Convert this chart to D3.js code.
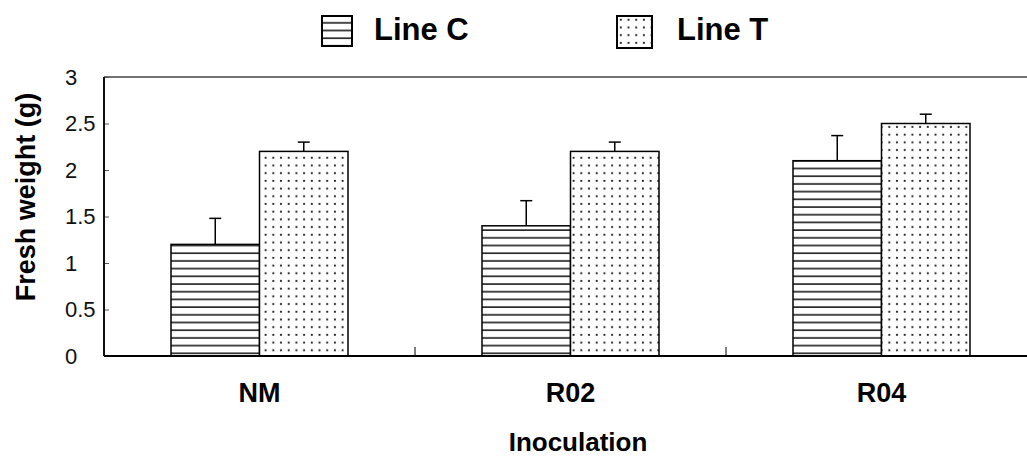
<!DOCTYPE html>
<html>
<head>
<meta charset="utf-8">
<script src="https://cdn.jsdelivr.net/npm/d3@7"></script>
<style>
  body { margin: 0; background: #fff; }
  svg { display: block; font-family: Arial, "Liberation Sans", sans-serif; }
</style>
</head>
<body>
<svg width="1027" height="459"></svg>
<script>
// data
const categories = ["NM", "R02", "R04"];
const series = ["Line C", "Line T"];
const lineC = [1.2, 1.4, 2.1];
const lineT = [2.2, 2.2, 2.5];
const errC = [0.28, 0.27, 0.27];
const errT = [0.1, 0.1, 0.1];
const yTicks = [0, 0.5, 1, 1.5, 2, 2.5, 3];

const width = 1027, height = 459;
const mLeft = 104, mRight = 1037, mTop = 77, mBottom = 356;

const svg = d3.select("svg");

// fill patterns: horizontal stripes and dots
const defs = svg.append("defs");
const stripes = defs.append("pattern")
    .attr("id", "stripes")
    .attr("patternUnits", "userSpaceOnUse")
    .attr("width", 8).attr("height", 7.7);
stripes.append("rect").attr("width", 8).attr("height", 7.7).attr("fill", "#fff");
stripes.append("rect").attr("y", 6.0).attr("width", 8).attr("height", 2).attr("fill", "#2a2a2a");

const dots = defs.append("pattern")
    .attr("id", "dots")
    .attr("patternUnits", "userSpaceOnUse")
    .attr("width", 7.7).attr("height", 7.7);
dots.append("rect").attr("width", 7.7).attr("height", 7.7).attr("fill", "#fff");
dots.append("circle").attr("cx", 3.8).attr("cy", 3.8).attr("r", 1.1).attr("fill", "#222");

const fills = { "Line C": "url(#stripes)", "Line T": "url(#dots)" };

// scales
const x = d3.scaleBand().domain(categories).range([mLeft, mRight]);
const xs = d3.scaleBand().domain(series).range([0, x.bandwidth()]).paddingOuter(0.757);
const y = d3.scaleLinear().domain([0, 3]).range([mBottom, mTop]);

// frame: top line and left/bottom axes
svg.append("line")
    .attr("x1", mLeft).attr("x2", width).attr("y1", mTop).attr("y2", mTop)
    .attr("stroke", "#444").attr("stroke-width", 1.5);

// y axis
const yAxis = svg.append("g").attr("transform", `translate(${mLeft},0)`)
    .call(d3.axisRight(y).tickValues(yTicks).tickSize(5).tickFormat(""));
yAxis.select(".domain").remove();
yAxis.selectAll(".tick line").attr("stroke", "#555").attr("stroke-width", 1);
svg.append("line")
    .attr("x1", mLeft).attr("x2", mLeft).attr("y1", mTop).attr("y2", mBottom)
    .attr("stroke", "#111").attr("stroke-width", 2);

svg.append("g").selectAll("text")
    .data(yTicks)
    .enter().append("text")
    .attr("x", 65)
    .attr("y", d => y(d))
    .attr("dy", "0.36em")
    .attr("font-size", 22)
    .attr("fill", "#111")
    .text(d => d);

// x axis dividers between groups
svg.append("g").selectAll("line")
    .data(categories.slice(1))
    .enter().append("line")
    .attr("x1", d => x(d)).attr("x2", d => x(d))
    .attr("y1", mBottom).attr("y2", mBottom - 9)
    .attr("stroke", "#555").attr("stroke-width", 1.5);

// bars
const rows = [];
categories.forEach((c, i) => {
  rows.push({ cat: c, s: "Line C", v: lineC[i], e: errC[i] });
  rows.push({ cat: c, s: "Line T", v: lineT[i], e: errT[i] });
});

const bars = svg.append("g").selectAll("g.bar")
    .data(rows)
    .enter().append("g")
    .attr("class", "bar");

// error bars (drawn under the bars so the stem starts at the top edge)
bars.append("line")
    .attr("x1", d => x(d.cat) + xs(d.s) + xs.bandwidth() / 2)
    .attr("x2", d => x(d.cat) + xs(d.s) + xs.bandwidth() / 2)
    .attr("y1", d => y(d.v))
    .attr("y2", d => y(d.v + d.e))
    .attr("stroke", "#000").attr("stroke-width", 1.5);
bars.append("line")
    .attr("x1", d => x(d.cat) + xs(d.s) + xs.bandwidth() / 2 - 6)
    .attr("x2", d => x(d.cat) + xs(d.s) + xs.bandwidth() / 2 + 6)
    .attr("y1", d => y(d.v + d.e))
    .attr("y2", d => y(d.v + d.e))
    .attr("stroke", "#000").attr("stroke-width", 1.5);

bars.append("rect")
    .attr("x", d => x(d.cat) + xs(d.s))
    .attr("y", d => y(d.v))
    .attr("width", xs.bandwidth())
    .attr("height", d => mBottom - y(d.v))
    .attr("fill", d => fills[d.s])
    .attr("stroke", "#000")
    .attr("stroke-width", 1.5);

// bottom axis line
svg.append("line")
    .attr("x1", mLeft).attr("x2", width).attr("y1", mBottom).attr("y2", mBottom)
    .attr("stroke", "#000").attr("stroke-width", 2);

// category labels
svg.append("g").selectAll("text")
    .data(categories)
    .enter().append("text")
    .attr("x", d => x(d) + x.bandwidth() / 2)
    .attr("y", 392)
    .attr("dy", "0.36em")
    .attr("text-anchor", "middle")
    .attr("font-size", 27)
    .attr("font-weight", "bold")
    .text(d => d);

// axis titles
svg.append("text")
    .attr("x", 578).attr("y", 442)
    .attr("dy", "0.36em")
    .attr("text-anchor", "middle")
    .attr("font-size", 26)
    .attr("font-weight", "bold")
    .text("Inoculation");

svg.append("text")
    .attr("transform", "translate(25,197) rotate(-90)")
    .attr("dy", "0.36em")
    .attr("text-anchor", "middle")
    .attr("font-size", 27)
    .attr("font-weight", "bold")
    .text("Fresh weight (g)");

// legend
const legendX = [322, 617];
const legend = svg.append("g").selectAll("g")
    .data(series)
    .enter().append("g")
    .attr("transform", (d, i) => `translate(${legendX[i]},16)`);
legend.append("rect")
    .attr("width", (d, i) => i === 0 ? 30 : 35)
    .attr("height", (d, i) => i === 0 ? 30 : 32)
    .attr("fill", d => fills[d])
    .attr("stroke", "#000").attr("stroke-width", 2);
legend.append("text")
    .attr("x", (d, i) => i === 0 ? 52 : 60)
    .attr("y", 13)
    .attr("dy", "0.36em")
    .attr("font-size", 31)
    .attr("font-weight", "bold")
    .text(d => d);
</script>
</body>
</html>
